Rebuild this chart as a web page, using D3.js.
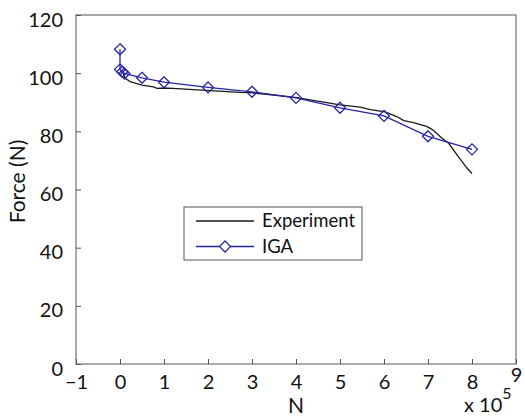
<!DOCTYPE html>
<html>
<head>
<meta charset="utf-8">
<script src="https://cdn.jsdelivr.net/npm/d3@7"></script>
<style>
    body { margin: 0; background: #fff; }
    svg text { font-family: "Lato", "Open Sans", sans-serif; fill: #111; }
</style>
</head>
<body>
<div class="chart"></div>
<script>
// values (x in units of 1e5 cycles, force in N)
const expN = [0.03, 0.07, 0.12, 0.23, 0.5, 0.76, 0.84, 1.0, 1.3, 2.05, 2.73, 2.96, 3.49, 4.02, 5.0, 5.46, 5.69, 6.03, 6.3, 6.45, 6.67, 6.98, 7.1, 7.32, 7.47, 7.66, 7.89, 8.0];
const expForce = [101, 99.9, 98.2, 97.1, 95.9, 95.3, 94.8, 94.9, 94.7, 94.0, 93.4, 93.3, 92.5, 91.6, 89.1, 88.3, 87.5, 86.7, 85.0, 83.7, 83.0, 81.6, 80.6, 77.6, 75.9, 71.9, 67.3, 65.5];
const igaN = [0, 0, 0.05, 0.1, 0.5, 1, 2, 3, 4, 5, 6, 7, 8];
const igaForce = [108.2, 101.3, 100.5, 99.9, 98.4, 96.9, 95.1, 93.6, 91.5, 88.1, 85.3, 78.3, 73.8];
const xTicks = [-1, 0, 1, 2, 3, 4, 5, 6, 7, 8, 9];
const yTicks = [0, 20, 40, 60, 80, 100, 120];
const seriesNames = ["Experiment", "IGA"];

const W = 525, H = 416;
const margin = {top: 15, right: 9, bottom: 52, left: 76};
const width = W - margin.left - margin.right;
const height = H - margin.top - margin.bottom;
const blue = "#2626a3";
const axisColor = "#555";

const svg = d3.select(".chart")
    .append("svg")
    .attr("width", W)
    .attr("height", H)
    .append("g")
    .attr("transform", "translate(" + margin.left + "," + margin.top + ")");

const x = d3.scaleLinear().domain([-1, 9]).range([0, width]);
const y = d3.scaleLinear().domain([0, 120]).range([height, 0]);

// box
svg.append("rect")
    .attr("width", width)
    .attr("height", height)
    .attr("fill", "none")
    .attr("stroke", axisColor)
    .attr("stroke-width", 1);

// x axis
const xAxis = svg.append("g")
    .attr("transform", "translate(0," + height + ")")
    .call(d3.axisBottom(x).tickValues(xTicks).tickSize(-5).tickPadding(11)
        .tickFormat(d => d < 0 ? "\u2212" + Math.abs(d) : d));
xAxis.select(".domain").remove();
xAxis.selectAll("line").attr("stroke", axisColor);
xAxis.selectAll("text").attr("font-size", 20).attr("fill", "#111")
    .attr("font-family", "Lato, 'Open Sans', sans-serif");
xAxis.selectAll(".tick").filter(d => d === 9).select("text").attr("dy", "0.35em");

// y axis
const yAxis = svg.append("g")
    .call(d3.axisLeft(y).tickValues(yTicks).tickSize(-5).tickPadding(13));
yAxis.select(".domain").remove();
yAxis.selectAll("line").attr("stroke", axisColor);
yAxis.selectAll("text").attr("font-size", 20).attr("fill", "#111").attr("dy", "0.55em")
    .attr("font-family", "Lato, 'Open Sans', sans-serif");

// axis labels
svg.append("text")
    .attr("x", x(4))
    .attr("y", height + 49)
    .attr("text-anchor", "middle")
    .attr("font-size", 21)
    .text("N");

const mult = svg.append("text")
    .attr("x", x(8) - 8)
    .attr("y", height + 48)
    .attr("font-size", 20);
mult.append("tspan").text("x 10");
mult.append("tspan").attr("dy", -13).attr("font-size", 16).text("5");

svg.append("text")
    .attr("transform", "translate(" + (-51) + "," + (y(60) - 8) + ") rotate(-90)")
    .attr("text-anchor", "middle")
    .attr("font-size", 21)
    .text("Force (N)");

// experiment curve
const expData = expN.map((n, i) => ({n: n, f: expForce[i]}));
const igaData = igaN.map((n, i) => ({n: n, f: igaForce[i]}));

const line = d3.line()
    .x(d => x(d.n))
    .y(d => y(d.f));

svg.append("path")
    .datum(expData)
    .attr("d", line)
    .attr("fill", "none")
    .attr("stroke", "#1a1a1a")
    .attr("stroke-width", 1.3);

svg.append("path")
    .datum(igaData)
    .attr("d", line)
    .attr("fill", "none")
    .attr("stroke", blue)
    .attr("stroke-width", 1.3);

const diamond = s => `M0,${-s}L${s},0L0,${s}L${-s},0Z`;

svg.selectAll(".iga-pt")
    .data(igaData)
    .enter()
    .append("path")
        .attr("class", "iga-pt")
        .attr("transform", d => "translate(" + x(d.n) + "," + y(d.f) + ")")
        .attr("d", diamond(5.5))
        .attr("fill", "none")
        .attr("stroke", blue)
        .attr("stroke-width", 1.3);

// legend
const legend = svg.append("g")
    .attr("transform", "translate(" + (184 - margin.left) + "," + (207 - margin.top) + ")");
legend.append("rect")
    .attr("width", 178)
    .attr("height", 53)
    .attr("fill", "#fff")
    .attr("stroke", axisColor)
    .attr("stroke-width", 1);

seriesNames.forEach((name, i) => {
    const ly = 14 + i * 25.5;
    const color = i === 0 ? "#1a1a1a" : blue;
    legend.append("line")
        .attr("x1", 12).attr("x2", 70)
        .attr("y1", ly).attr("y2", ly)
        .attr("stroke", color)
        .attr("stroke-width", 1.3);
    if (i === 1) {
        legend.append("path")
            .attr("transform", "translate(41," + ly + ")")
            .attr("d", diamond(5.5))
            .attr("fill", "#fff")
            .attr("stroke", blue)
            .attr("stroke-width", 1.3);
    }
    legend.append("text")
        .attr("x", 78)
        .attr("y", ly)
        .attr("dy", "0.35em")
        .attr("font-size", 18.5)
        .text(name);
});
</script>
</body>
</html>
